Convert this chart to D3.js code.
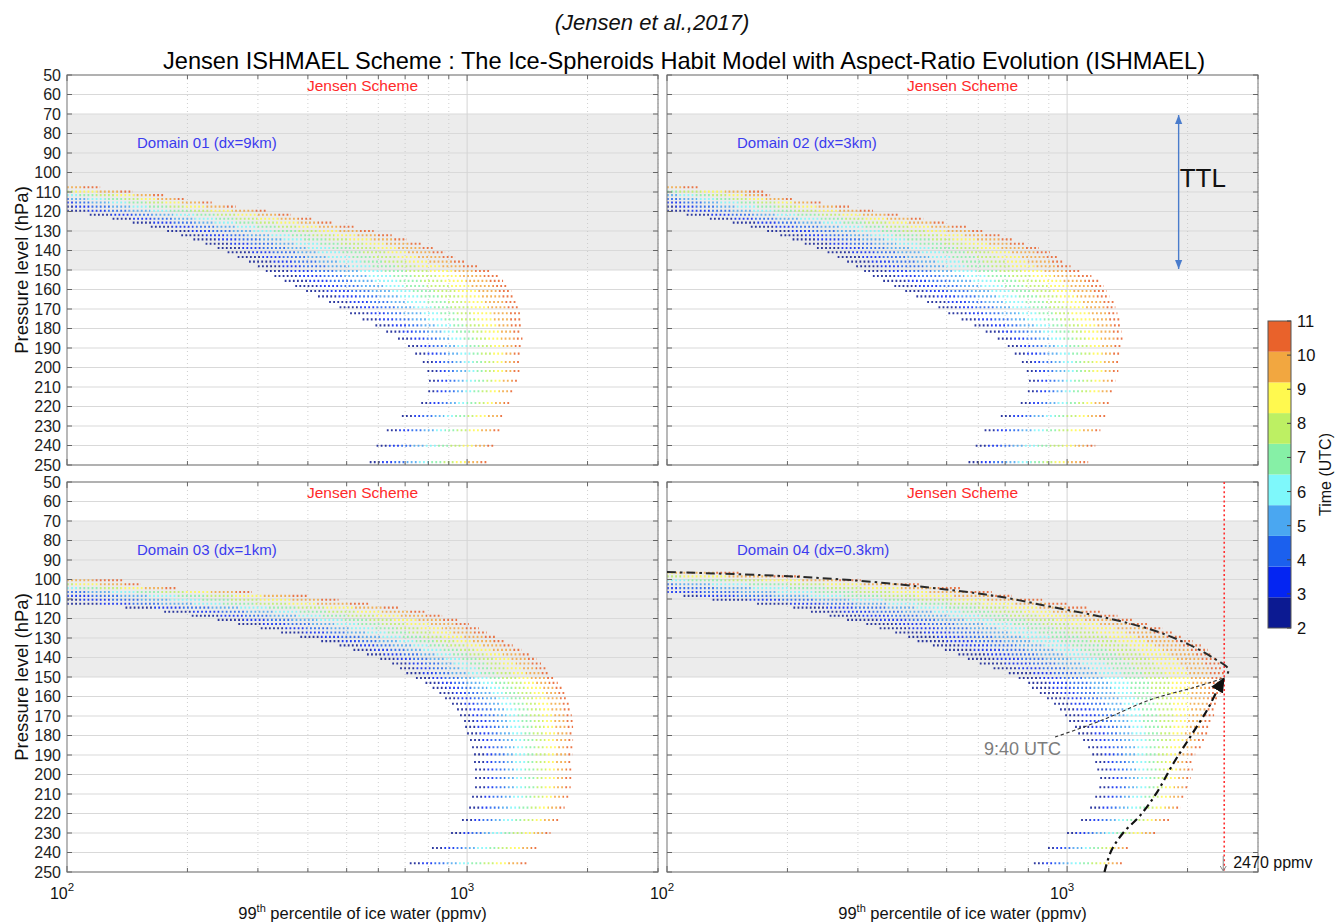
<!DOCTYPE html>
<html>
<head>
<meta charset="utf-8">
<script src="https://cdn.jsdelivr.net/npm/d3@7"></script>
<style>
  body { margin: 0; background: #fff; }
  text { font-family: "Liberation Sans", Arial, sans-serif; }
</style>
</head>
<body>
<svg id="chart" width="1336" height="922"></svg>
<script>
// model rows (hPa) of domains 01-02 and 03-04
const levelsA = [107.6, 109.8, 111.6, 113.6, 115.4, 117.5, 119.6, 121.7, 123.7, 125.7, 127.8, 130, 132.2, 134.3, 136.5,
  138.7, 140.9, 143.3, 145.7, 148.1, 150.5, 153.1, 155.6, 158.2, 160.8, 163.5, 166.4, 169.1, 172.2, 175.3, 178.4, 181.6,
  185.2, 189, 192.9, 197.2, 201.8, 206.8, 212.2, 218.2, 224.9, 232.2, 240.1, 248.5];
const levelsB = [96.5, 98.4, 100.4, 102.4, 104.4, 106.4, 108.4, 110.4, 112.4, 114.4, 116.5, 118.6, 120.7, 122.8, 125,
  127.2, 129.4, 131.6, 133.8, 136.1, 138.4, 140.7, 143.1, 145.5, 148, 150.5, 153, 155.6, 158.2, 160.9, 163.7, 166.6, 169.6,
  172.6, 175.6, 178.9, 182.3, 186, 189.7, 193.6, 197.4, 201.8, 206.5, 211.4, 217, 223.3, 230, 237.7, 245.5];

// per row: smallest ice water (earliest hour), largest ice water (latest hour), earliest hour seen
const d01Low = [100, 100, 100, 100, 100, 100, 100, 114, 130, 146, 162, 178, 193, 207, 222, 238, 252, 267, 285, 300, 314,
  330, 350, 372, 396, 424, 452, 480, 510, 548, 590, 628, 672, 712, 742, 775, 796, 803, 800, 768, 687, 630, 594, 571];
const d01High = [121, 146, 175, 198, 230, 264, 314, 363, 408, 458, 520, 584, 648, 707, 771, 826, 881, 933, 989, 1060, 1142,
  1197, 1230, 1255, 1290, 1310, 1330, 1345, 1355, 1359, 1362, 1367, 1375, 1375, 1367, 1359, 1351, 1336, 1305, 1275, 1239,
  1204, 1169, 1123];
const d01Start = [9.6, 8, 6, 4.5, 3.5, 2.6, 2, 2, 2, 2, 2, 2, 2, 2, 2, 2, 2, 2, 2, 2, 2, 2, 2, 2, 2, 2, 2, 2, 2, 2, 2, 2,
  2, 2, 2, 2, 2, 2, 2, 2, 2, 2, 2, 2];

const d02Low = [100, 100, 100, 100, 100, 100, 100, 112, 128, 146, 162, 178, 192, 206, 221, 237, 252, 267, 282, 297, 311,
  327, 347, 370, 394, 420, 447, 477, 505, 545, 587, 626, 671, 711, 740, 771, 793, 803, 798, 766, 683, 622, 591, 567];
const d02High = [120, 174, 181, 207, 245, 285, 327, 380, 437, 494, 561, 619, 679, 736, 784, 850, 905, 950, 985, 1020, 1075,
  1150, 1200, 1235, 1255, 1275, 1313, 1320, 1336, 1351, 1359, 1367, 1375, 1367, 1359, 1351, 1343, 1320, 1305, 1275, 1246,
  1211, 1176, 1129];
const d02Start = [9.6, 7, 5, 4, 3, 2.5, 2, 2, 2, 2, 2, 2, 2, 2, 2, 2, 2, 2, 2, 2, 2, 2, 2, 2, 2, 2, 2, 2, 2, 2, 2, 2,
  2, 2, 2, 2, 2, 2, 2, 2, 2, 2, 2, 2];

const d03Low = [null, null, 100, 100, 100, 100, 100, 100, 100, 140, 175, 205, 238, 268, 305, 343, 383, 432, 480, 520, 562,
  607, 650, 680, 705, 745, 787, 820, 853, 881, 917, 944, 960, 983, 989, 1000, 1017, 1029, 1041, 1041, 1047, 1047, 1047,
  1029, 1012, 971, 912, 817, 719];
const d03High = [null, null, 138, 153, 189, 290, 401, 477, 567, 680, 790, 866, 944, 1010, 1070, 1120, 1180, 1240, 1300,
  1370, 1440, 1490, 1530, 1575, 1610, 1655, 1685, 1735, 1765, 1785, 1805, 1815, 1826, 1836, 1840, 1845, 1840, 1836, 1836,
  1830, 1830, 1826, 1815, 1805, 1753, 1703, 1616, 1499, 1415];
const d03Start = [null, null, 9.6, 8, 6, 4, 3, 2.5, 2, 2, 2, 2, 2, 2, 2, 2, 2, 2, 2, 2, 2, 2, 2, 2, 2, 2, 2, 2, 2, 2, 2,
  2, 2, 2, 2, 2, 2, 2, 2, 2, 2, 2, 2, 2, 2, 2, 2, 2, 2];

const d04Low = [100, 100, 100, 100, 100, 100, 110, 130, 168, 207, 229, 255, 282, 315, 340, 372, 401, 423, 462, 495, 535,
  565, 605, 655, 715, 757, 800, 817, 855, 891, 928, 960, 989, 1012, 1047, 1066, 1097, 1129, 1156, 1176, 1190, 1210, 1204,
  1176, 1142, 1084, 1000, 896, 826];
const d04High = [153, 216, 305, 432, 545, 648, 728, 866, 1000, 1123, 1224, 1336, 1456, 1589, 1733, 1836, 1945, 2061, 2159,
  2248, 2300, 2370, 2420, 2450, 2470, 2465, 2450, 2430, 2420, 2400, 2380, 2350, 2330, 2300, 2270, 2240, 2200, 2160, 2090,
  2060, 2060, 2040, 2020, 1970, 1920, 1800, 1680, 1430, 1380];
const d04Start = [9, 8, 6, 4.5, 3.5, 3, 2.5, 2, 2, 2, 2, 2, 2, 2, 2, 2, 2, 2, 2, 2, 2, 2, 2, 2, 2, 2, 2, 2, 2, 2, 2, 2,
  2, 2, 2, 2, 2, 2, 2, 2, 2, 2, 2, 2, 2, 2, 2, 2, 2];
const lastHour = 10.67;

const pressureTicks = [50, 60, 70, 80, 90, 100, 110, 120, 130, 140, 150, 160, 170, 180, 190, 200, 210, 220, 230, 240, 250];
const xMajor = [100, 1000];
const xMinor = [200, 300, 400, 500, 600, 700, 800, 900, 2000, 3000];
const xLimits = [100, 3000];
const ttlBand = [70, 150];
const timeTicks = [2, 3, 4, 5, 6, 7, 8, 9, 10, 11];
const timeColors = ["#0c1a92", "#0425f2", "#1b60ee", "#4aa7f1", "#7ef8fb", "#86f0a6", "#bdf063", "#fff94f", "#f2a740", "#e9622b"];

// domain 04 annotations (ppmv, hPa)
const maxIce = 2470;
const topPath = [[100, 96.2], [171, 97.7], [288, 100.3], [513, 105.4], [687, 109], [916, 114.1], [1224, 119.2],
  [1634, 125.9], [2000, 133], [2330, 140.5], [2530, 146], [2500, 149.6]];
const risePath = [[1240, 250], [1290, 239], [1380, 230], [1523, 221], [1679, 209], [1841, 194.5], [2030, 180.8],
  [2239, 166.9], [2385, 156], [2465, 150.8]];
const notePath = [[933, 180.8], [1224, 172.1], [1607, 161.8], [2097, 155.1], [2452, 150.7]];
const noteAt = [620, 190];
const ttlAt = 1900;

const svg = d3.select("#chart");
const defs = svg.append("defs");
const panelW = 591, panelH = 390;

const panels = [
  {label: "Domain 01 (dx=9km)", levels: levelsA, low: d01Low, high: d01High, start: d01Start, left: 67, top: 75},
  {label: "Domain 02 (dx=3km)", levels: levelsA, low: d02Low, high: d02High, start: d02Start, left: 667, top: 75},
  {label: "Domain 03 (dx=1km)", levels: levelsB, low: d03Low, high: d03High, start: d03Start, left: 67, top: 482},
  {label: "Domain 04 (dx=0.3km)", levels: levelsB, low: d04Low, high: d04High, start: d04Start, left: 667, top: 482}
];

const x = d3.scaleLog().domain(xLimits).range([0, panelW]);
const y = d3.scaleLinear().domain([50, 250]).range([0, panelH]);
const colorOf = d3.scaleQuantize().domain([2, 11]).range(timeColors);
const edges = [2, ...colorOf.thresholds(), 11];

defs.append("marker").attr("id", "blueHead").attr("viewBox", "0 0 10 10")
  .attr("refX", 10).attr("refY", 5).attr("markerWidth", 9).attr("markerHeight", 9)
  .attr("markerUnits", "userSpaceOnUse").attr("orient", "auto-start-reverse")
  .append("path").attr("d", "M0,1L10,5L0,9Z").attr("fill", "#4a7ccc");
defs.append("marker").attr("id", "blackHead").attr("viewBox", "0 0 10 10")
  .attr("refX", 9).attr("refY", 5).attr("markerWidth", 15).attr("markerHeight", 15)
  .attr("markerUnits", "userSpaceOnUse").attr("orient", "auto")
  .append("path").attr("d", "M0,0.5L10,5L0,9.5Z").attr("fill", "#111");

panels.forEach((pn, k) => {
  const g = svg.append("g").attr("transform", `translate(${pn.left},${pn.top})`);
  const clipId = `clip${k}`;
  defs.append("clipPath").attr("id", clipId).append("rect").attr("width", panelW).attr("height", panelH);

  // TTL band
  g.append("rect").attr("x", 0).attr("width", panelW)
    .attr("y", y(ttlBand[0])).attr("height", y(ttlBand[1]) - y(ttlBand[0]))
    .attr("fill", "#ececec");

  // grid
  g.append("g").selectAll("line").data(pressureTicks).join("line")
    .attr("x1", 0).attr("x2", panelW).attr("y1", d => y(d)).attr("y2", d => y(d))
    .attr("stroke", "#d9d9d9").attr("stroke-width", 1);
  g.append("g").selectAll("line").data(xMinor).join("line")
    .attr("x1", d => x(d)).attr("x2", d => x(d)).attr("y1", 0).attr("y2", panelH)
    .attr("stroke", "#c4c4c4").attr("stroke-width", 0.8).attr("stroke-dasharray", "1,3");
  g.append("g").selectAll("line").data(xMajor.slice(1)).join("line")
    .attr("x1", d => x(d)).attr("x2", d => x(d)).attr("y1", 0).attr("y2", panelH)
    .attr("stroke", "#d4d4d4").attr("stroke-width", 1);

  // rows of points, coloured by hour
  const dots = g.append("g").attr("clip-path", `url(#${clipId})`);
  pn.levels.forEach((p, i) => {
    if (pn.low[i] == null) return;
    const x1 = x(pn.low[i]), x2 = x(pn.high[i]);
    const t0 = pn.start[i];
    const gid = `row${k}_${i}`;
    const grad = defs.append("linearGradient").attr("id", gid)
      .attr("gradientUnits", "userSpaceOnUse")
      .attr("x1", x1).attr("x2", x2).attr("y1", 0).attr("y2", 0);
    timeColors.forEach((c, b) => {
      const lo = Math.max(edges[b], t0), hi = Math.min(edges[b + 1], lastHour);
      if (hi <= lo) return;
      grad.append("stop").attr("offset", (lo - t0) / (lastHour - t0)).attr("stop-color", c);
      grad.append("stop").attr("offset", (hi - t0) / (lastHour - t0)).attr("stop-color", c);
    });
    dots.append("line")
      .attr("x1", x1).attr("x2", x2).attr("y1", y(p)).attr("y2", y(p))
      .attr("stroke", `url(#${gid})`)
      .attr("stroke-width", 2.1)
      .attr("stroke-dasharray", "1.8,2.3")
      .attr("opacity", 0.86);
  });

  // frame and inward ticks
  g.append("rect").attr("width", panelW).attr("height", panelH)
    .attr("fill", "none").attr("stroke", "#8a8a8a").attr("stroke-width", 1.2);
  const ticks = g.append("g").attr("stroke", "#666").attr("stroke-width", 1);
  pressureTicks.forEach(d => {
    ticks.append("line").attr("x1", 0).attr("x2", 5).attr("y1", y(d)).attr("y2", y(d));
    ticks.append("line").attr("x1", panelW - 5).attr("x2", panelW).attr("y1", y(d)).attr("y2", y(d));
  });
  xMinor.concat(xMajor).forEach(d => {
    const len = xMajor.includes(d) ? 6 : 4;
    ticks.append("line").attr("x1", x(d)).attr("x2", x(d)).attr("y1", panelH).attr("y2", panelH - len);
    ticks.append("line").attr("x1", x(d)).attr("x2", x(d)).attr("y1", 0).attr("y2", len);
  });

  // labels
  g.append("text").attr("x", panelW / 2).attr("y", 16).attr("text-anchor", "middle")
    .attr("fill", "#ff2a2a").style("font-size", "15.5px").text("Jensen Scheme");
  g.append("text").attr("x", 70).attr("y", y(87.5)).attr("fill", "#3b3bef")
    .style("font-size", "15px").text(pn.label);

  if (pn.left < 600) {
    g.append("g").selectAll("text").data(pressureTicks).join("text")
      .attr("x", -6).attr("y", d => y(d) + 5.8).attr("text-anchor", "end")
      .attr("fill", "#222").style("font-size", "16px").text(d => d);
    g.append("text").attr("transform", `translate(-39,${panelH / 2}) rotate(-90)`)
      .attr("text-anchor", "middle").attr("fill", "#111").style("font-size", "18.5px")
      .text("Pressure level (hPa)");
  }

  if (pn.top > 400) {
    xMajor.forEach(d => {
      const t = g.append("text").attr("x", x(d) - 5).attr("y", panelH + 27)
        .attr("text-anchor", "middle").attr("fill", "#111").style("font-size", "16px");
      t.append("tspan").text("10");
      t.append("tspan").attr("dy", -8).style("font-size", "11.5px").text(Math.log10(d));
    });
    const xt = g.append("text").attr("x", panelW / 2).attr("y", panelH + 47)
      .attr("text-anchor", "middle").attr("fill", "#111").style("font-size", "16.5px");
    xt.append("tspan").text("99");
    xt.append("tspan").attr("dy", -7).style("font-size", "11px").text("th");
    xt.append("tspan").attr("dy", 7).text(" percentile of ice water  (ppmv)");
  }

  // TTL arrow
  if (k === 1) {
    g.append("line").attr("x1", x(ttlAt)).attr("x2", x(ttlAt))
      .attr("y1", y(ttlBand[0]) + 1).attr("y2", y(ttlBand[1]) - 1)
      .attr("stroke", "#4a7ccc").attr("stroke-width", 1.4)
      .attr("marker-start", "url(#blueHead)").attr("marker-end", "url(#blueHead)");
    g.append("text").attr("x", x(ttlAt) + 1).attr("y", y(110) - 5)
      .attr("fill", "#111").style("font-size", "26px").text("TTL");
  }

  // Domain 04 annotations
  if (k === 3) {
    const line = d3.line().x(d => x(d[0])).y(d => y(d[1])).curve(d3.curveCatmullRom.alpha(0.5));
    g.append("line").attr("x1", x(maxIce)).attr("x2", x(maxIce)).attr("y1", 0).attr("y2", panelH)
      .attr("stroke", "#ff3030").attr("stroke-width", 1.6).attr("stroke-dasharray", "2,2.6");
    g.append("path").attr("d", line(topPath)).attr("fill", "none")
      .attr("stroke", "#2a2a2a").attr("stroke-width", 2).attr("stroke-dasharray", "9,4,2.5,4");
    g.append("path").attr("d", line(notePath)).attr("fill", "none")
      .attr("stroke", "#333").attr("stroke-width", 1.1).attr("stroke-dasharray", "3.5,2.5");
    g.append("path").attr("d", line(risePath)).attr("fill", "none")
      .attr("stroke", "#111").attr("stroke-width", 2.2).attr("stroke-dasharray", "8,4,2.5,4")
      .attr("marker-end", "url(#blackHead)");
    g.append("text").attr("x", x(noteAt[0])).attr("y", y(noteAt[1])).attr("fill", "#7c7c7c")
      .style("font-size", "18px").text("9:40 UTC");
    g.append("line").attr("x1", x(maxIce) - 1).attr("x2", x(maxIce) - 1)
      .attr("y1", panelH - 16).attr("y2", panelH - 2)
      .attr("stroke", "#888").attr("stroke-width", 1);
    g.append("path").attr("d", `M${x(maxIce) - 4},${panelH - 6}L${x(maxIce) - 1},${panelH - 1}L${x(maxIce) + 2},${panelH - 6}`)
      .attr("fill", "none").attr("stroke", "#888").attr("stroke-width", 1);
    g.append("text").attr("x", x(maxIce) + 9).attr("y", panelH - 4).attr("fill", "#111")
      .style("font-size", "16px").text(`${maxIce} ppmv`);
  }
});

// colour bar
const cbX = 1268, cbW = 23;
const cbY = d3.scaleLinear().domain([2, 11]).range([628, 321]);
const cb = svg.append("g");
cb.selectAll("rect").data(timeColors).join("rect")
  .attr("x", cbX).attr("width", cbW)
  .attr("y", (d, i) => cbY(edges[i + 1])).attr("height", (d, i) => cbY(edges[i]) - cbY(edges[i + 1]))
  .attr("fill", d => d);
cb.append("rect").attr("x", cbX).attr("y", cbY(11)).attr("width", cbW).attr("height", cbY(2) - cbY(11))
  .attr("fill", "none").attr("stroke", "#555").attr("stroke-width", 1);
cb.selectAll("line.t").data(timeTicks).join("line").attr("class", "t")
  .attr("x1", cbX + cbW - 4).attr("x2", cbX + cbW).attr("y1", d => cbY(d)).attr("y2", d => cbY(d))
  .attr("stroke", "#444");
cb.selectAll("text").data(timeTicks).join("text")
  .attr("x", cbX + cbW + 6).attr("y", d => cbY(d) + 6)
  .attr("fill", "#111").style("font-size", "16.5px").text(d => d);
svg.append("text").attr("transform", `translate(1331,${(cbY(2) + cbY(11)) / 2}) rotate(-90)`)
  .attr("text-anchor", "middle").attr("fill", "#111").style("font-size", "16px").text("Time (UTC)");

// titles
svg.append("text").attr("x", 652).attr("y", 30).attr("text-anchor", "middle")
  .style("font-style", "italic").style("font-size", "22px").attr("fill", "#111")
  .text("(Jensen et al.,2017)");
svg.append("text").attr("x", 684).attr("y", 69).attr("text-anchor", "middle")
  .style("font-size", "24px").attr("fill", "#000")
  .attr("textLength", 1042).attr("lengthAdjust", "spacingAndGlyphs")
  .text("Jensen ISHMAEL Scheme :  The Ice-Spheroids Habit Model with Aspect-Ratio Evolution (ISHMAEL)");
</script>
</body>
</html>
